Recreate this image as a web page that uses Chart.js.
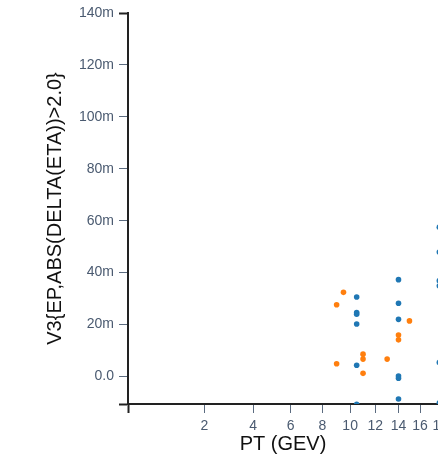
<!DOCTYPE html>
<html>
<head>
<meta charset="utf-8">
<script src="https://cdn.jsdelivr.net/npm/chart.js@4"></script>
<style>
  html, body { margin: 0; padding: 0; background: #fff; overflow: hidden; }
  #wrap { width: 438px; height: 460px; }
</style>
</head>
<body>
<div id="wrap"><canvas id="graphique"></canvas></div>
<script>
// values (pt in GeV, v3 as a plain number, "m" = 1e-3)
// the pt ~18 column goes first: unsorted data keeps Chart.js drawing the points past the axis max
const ptBlue = [17.9, 17.9, 17.9, 17.9, 17.9, 17.9, 10.5, 10.5, 10.5, 10.5, 10.5, 10.5, 14, 14, 14, 14, 14, 14];
const v3Blue = [0.0575, 0.0479, 0.0369, 0.0349, 0.0054, -0.0102, 0.0306, 0.0246, 0.0240, 0.0202, 0.0043, -0.0107, 0.0373, 0.0282, 0.0220, 0.0002, -0.0007, -0.0087];
const ptOrange = [9, 9, 9.5, 11, 11, 11, 13, 14, 14, 15];
const v3Orange = [0.0276, 0.0049, 0.0324, 0.0086, 0.0067, 0.0012, 0.0067, 0.0160, 0.0141, 0.0214];

const xTicks = [2, 4, 6, 8, 10, 12, 14, 16, 18];
const yTicks = [0, 0.02, 0.04, 0.06, 0.08, 0.1, 0.12, 0.14];

// the x axis is a square-root scale: x values go through Math.sqrt
const xMin = 0.5, xMax = 4.215;
const yMin = -0.0106, yMax = 0.14;

const axisColor = "#222";
const tickColor = "#5b6b80";
const fontFamily = "'Liberation Sans', Arial, sans-serif";

function points(xs, ys) {
    const pts = [];
    for (let i = 0; i < xs.length; i++) {
        pts.push({ x: Math.sqrt(xs[i]), y: ys[i] });
    }
    return pts;
}

// clipped at the plot bottom, free at the right edge (the canvas cuts it)
const clipArea = { left: 0, top: 0, right: false, bottom: 0 };

const data = {
    datasets: [{
        label: "blue",
        data: points(ptBlue, v3Blue),
        backgroundColor: "#1f77b4",
        borderWidth: 0,
        pointRadius: 2.8,
        clip: clipArea,
    }, {
        label: "orange",
        data: points(ptOrange, v3Orange),
        backgroundColor: "#ff7f0e",
        borderWidth: 0,
        pointRadius: 2.8,
        clip: clipArea,
    }]
};

const config = {
    type: "scatter",
    data: data,
    options: {
        responsive: true,
        maintainAspectRatio: false,
        animation: false,
        layout: { autoPadding: false, padding: { top: 13, right: 0, left: 0, bottom: 0 } },
        plugins: { legend: { display: false }, tooltip: { enabled: false } },
        scales: {
            x: {
                type: "linear",
                min: xMin,
                max: xMax,
                afterBuildTicks: (s) => {
                    s.ticks = [{ value: xMin }].concat(xTicks.map(v => ({ value: Math.sqrt(v) })));
                },
                afterFit: (s) => { s.height = 56; s.paddingLeft = 0; s.paddingRight = 0; },
                grid: {
                    drawOnChartArea: false,
                    tickLength: 9,
                    tickColor: (c) => c.tick && c.tick.value === xMin ? axisColor : tickColor,
                    tickWidth: (c) => c.tick && c.tick.value === xMin ? 2 : 1,
                },
                border: { color: axisColor, width: 2 },
                ticks: {
                    autoSkip: false,
                    maxRotation: 0,
                    padding: 5,
                    color: "#4a5a70",
                    font: { family: fontFamily, size: 14 },
                    callback: (v) => v === xMin ? "" : String(Math.round(v * v)),
                },
                title: {
                    display: true,
                    text: "PT (GEV)",
                    color: "#111",
                    font: { family: fontFamily, size: 20 },
                    padding: { top: 0, bottom: 4 },
                },
            },
            y: {
                type: "linear",
                min: yMin,
                max: yMax,
                afterBuildTicks: (s) => {
                    s.ticks = [{ value: yMin }].concat(yTicks.map(v => ({ value: v })));
                },
                afterFit: (s) => { s.width = 128; s.paddingTop = 0; s.paddingBottom = 0; },
                grid: {
                    drawOnChartArea: false,
                    tickLength: 9,
                    tickColor: (c) => c.tick && (c.tick.value === yMin || c.tick.value === yMax) ? axisColor : tickColor,
                    tickWidth: (c) => c.tick && (c.tick.value === yMin || c.tick.value === yMax) ? 2 : 1,
                },
                border: { color: axisColor, width: 2 },
                ticks: {
                    autoSkip: false,
                    padding: 5,
                    color: "#4a5a70",
                    font: { family: fontFamily, size: 14 },
                    callback: (v) => {
                        if (v === yMin) return "";
                        if (v === 0) return "0.0";
                        return Math.round(v * 1000) + "m";
                    },
                },
                title: {
                    display: true,
                    text: "V3{EP,ABS(DELTA(ETA))>2.0}",
                    color: "#111",
                    font: { family: fontFamily, size: 20 },
                    padding: { top: 43, bottom: 0 },
                },
            },
        },
    },
};

const graph = new Chart(document.querySelector("#graphique"), config);
</script>
</body>
</html>
